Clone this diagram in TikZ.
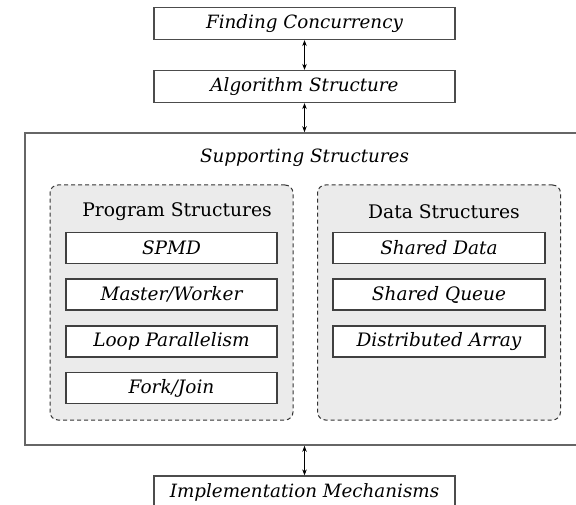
\documentclass[tikz,border=0pt]{standalone}
\usepackage{fontspec}
\setmainfont{DejaVu Serif}
\usetikzlibrary{arrows.meta,positioning}

\begin{document}
\begin{tikzpicture}[
    x=1pt, y=-1pt,
    stage/.style={draw=black!70, line width=1.2pt, minimum width=301pt, minimum height=32pt, inner sep=0pt, font=\fontsize{18.3}{21}\selectfont\itshape},
    pattern/.style={draw=black!75, line width=1.1pt, fill=white, minimum height=31pt, inner sep=0pt, font=\fontsize{18.5}{21}\selectfont\itshape},
    group/.style={draw=black!80, dash pattern=on 4pt off 3pt, line width=1pt, rounded corners=8pt, fill=black!8, minimum width=243pt, minimum height=235pt},
    link/.style={{Stealth[length=6pt,width=4.5pt]}-{Stealth[length=6pt,width=4.5pt]}, line width=0.8pt}
  ]
    \useasboundingbox (0,0) rectangle (576,505);

    \node[stage] (fc) at (304.5,23.5) {Finding Concurrency};
    \node[stage] (as) at (304.5,86.5) {Algorithm Structure};

    \node[draw=black!60, line width=1.6pt, minimum width=559pt, minimum height=312pt] (ss) at (304.5,289) {};
    \node[font=\fontsize{18.3}{21}\selectfont\itshape] (sslabel) at (304.5,158) {Supporting Structures};

    \node[group] (ps) at (171.5,302.5) {};
    \node[group] (ds) at (439,302.5) {};
    \node[font=\fontsize{18.7}{21}\selectfont] (pslabel) at (177,212) {Program Structures};
    \node[font=\fontsize{18.7}{21}\selectfont] (dslabel) at (444,212) {Data Structures};

    \node[pattern, minimum width=211pt] (spmd) at (171.5,248) {SPMD};
    \node[pattern, minimum width=211pt] (mw) at (171.5,294.5) {Master/Worker};
    \node[pattern, minimum width=211pt] (lp) at (171.5,341.5) {Loop Parallelism};
    \node[pattern, minimum width=211pt] (fj) at (171.5,388) {Fork/Join};

    \node[pattern, minimum width=212pt] (sd) at (439,248) {Shared Data};
    \node[pattern, minimum width=212pt] (sq) at (439,294.5) {Shared Queue};
    \node[pattern, minimum width=212pt] (da) at (439,341.5) {Distributed Array};

    \node[stage, minimum height=33pt] (im) at (304.5,492.5) {Implementation Mechanisms};

    \draw[link] (fc.south) -- (as.north);
    \draw[link] (as.south) -- (ss.north);
    \draw[link] (ss.south) -- (im.north);
  \end{tikzpicture}
\end{document}
